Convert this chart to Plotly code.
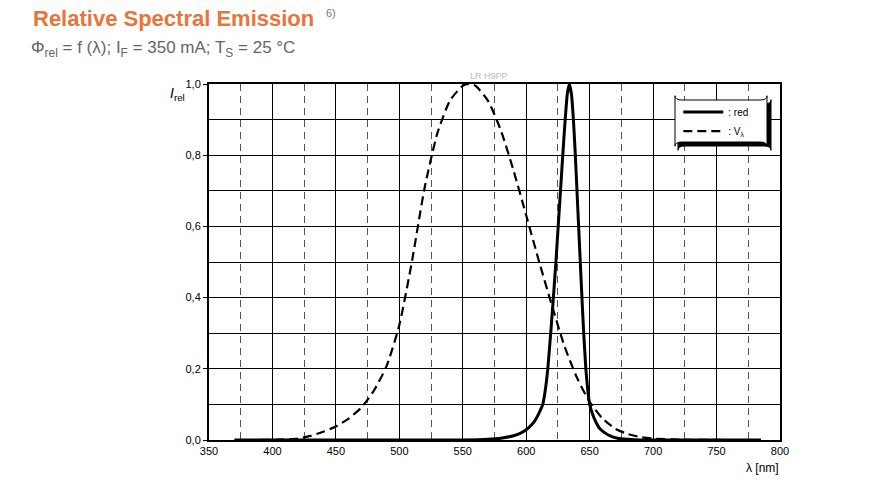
import plotly.graph_objects as go

# Data
red_wl = [370, 500, 550, 570, 580, 590, 596, 602, 606, 610, 613, 615, 617, 619.3, 621.4,
          623.4, 625.2, 627, 628.8, 630.7, 632.3, 634, 635.7, 637.2, 638.7, 640, 641.3,
          642.6, 643.9, 645.3, 647, 648.5, 650, 652.5, 655, 658, 662, 667, 672, 680, 690, 785]
red_val = [0, 0, 0, 0.002, 0.005, 0.012, 0.02, 0.035, 0.05, 0.075, 0.1, 0.14, 0.2, 0.3, 0.4,
           0.5, 0.6, 0.7, 0.8, 0.9, 0.97, 1.0, 0.97, 0.9, 0.8, 0.7, 0.6,
           0.5, 0.4, 0.3, 0.2, 0.14, 0.1, 0.07, 0.05, 0.032, 0.02, 0.01, 0.005, 0.002, 0, 0]

v_wl = [380, 400, 420, 430, 440, 450, 460, 470, 480, 490, 500, 510, 520, 530, 540, 550, 555,
        560, 570, 580, 590, 600, 610, 620, 630, 640, 650, 660, 670, 680, 690, 700, 720, 750, 780]
v_val = [0.00004, 0.0004, 0.004, 0.0116, 0.023, 0.038, 0.06, 0.091, 0.139, 0.208, 0.323, 0.503,
         0.71, 0.862, 0.954, 0.995, 1.0, 0.995, 0.952, 0.870, 0.757, 0.631, 0.503, 0.381, 0.265,
         0.175, 0.107, 0.061, 0.032, 0.017, 0.0082, 0.0041, 0.001, 0.00012, 0.00002]

x_ticks = [350, 400, 450, 500, 550, 600, 650, 700, 750, 800]
y_ticks = [0.0, 0.2, 0.4, 0.6, 0.8, 1.0]
y_ticklabels = ["0,0", "0,2", "0,4", "0,6", "0,8", "1,0"]

FONT = "Liberation Sans, Arial, sans-serif"

fig = go.Figure()
fig.add_trace(go.Scatter(x=red_wl, y=red_val, mode="lines", name=": red",
                         line=dict(color="black", width=3, shape="spline", smoothing=0.4)))
fig.add_trace(go.Scatter(x=v_wl, y=v_val, mode="lines", name=": V<sub>λ</sub>",
                         line=dict(color="black", width=2.2, dash="9px,5px", shape="spline", smoothing=0.6)))

fig.update_layout(
    width=879, height=491,
    margin=dict(l=209, r=99, t=84, b=51),
    paper_bgcolor="white", plot_bgcolor="white",
    font=dict(family=FONT, size=11, color="black"),
    showlegend=True,
    legend=dict(x=0.955, y=0.962, xanchor="right", yanchor="top",
                bgcolor="rgba(0,0,0,0)", borderwidth=0,
                font=dict(size=10), itemwidth=40, tracegroupgap=0),
    xaxis=dict(range=[350, 800], tickvals=x_ticks, ticks="", showline=True, linecolor="black",
               linewidth=2, mirror=True, showgrid=True, gridcolor="black", gridwidth=1,
               zeroline=False,
               minor=dict(dtick=25, tick0=375, showgrid=True, gridcolor="#555",
                          griddash="7px,5px", gridwidth=1, ticks="")),
    yaxis=dict(range=[0, 1.0], tickvals=y_ticks, ticktext=y_ticklabels, ticks="outside",
               ticklen=4, tickcolor="black", showline=True, linecolor="black", linewidth=2,
               mirror=True, showgrid=True, gridcolor="black", gridwidth=1, zeroline=False,
               minor=dict(dtick=0.1, tick0=0, showgrid=True, gridcolor="black", gridwidth=1,
                          ticks="")),
)

# legend box (rounded with shadow)
def rr(x0, y0, x1, y1, r):
    return (f"M {x0+r},{y0} L {x1-r},{y0} Q {x1},{y0} {x1},{y0+r} L {x1},{y1-r} "
            f"Q {x1},{y1} {x1-r},{y1} L {x0+r},{y1} Q {x0},{y1} {x0},{y1-r} "
            f"L {x0},{y0+r} Q {x0},{y0} {x0+r},{y0} Z")

def px(xp):
    return (xp - 209) / 571.0

def py(yp):
    return (440 - yp) / 356.0

fig.add_shape(type="path", xref="paper", yref="paper",
              path=rr(px(678), py(104), px(771), py(146), 0.012),
              fillcolor="black", line=dict(color="black", width=1), layer="above")
fig.add_shape(type="path", xref="paper", yref="paper",
              path=rr(px(675), py(100), px(767), py(142), 0.012),
              fillcolor="white", line=dict(color="black", width=1), layer="above")

# titles
fig.add_annotation(xref="paper", yref="paper", x=px(31), y=py(18), xanchor="left", yanchor="middle",
                   text="<b>Relative Spectral Emission</b>", showarrow=False,
                   font=dict(family=FONT, size=22, color="#E8743B"))
fig.add_annotation(xref="paper", yref="paper", x=px(324), y=py(13), xanchor="left", yanchor="middle",
                   text="6)", showarrow=False, font=dict(family=FONT, size=11, color="#777"))
fig.add_annotation(xref="paper", yref="paper", x=px(29), y=py(49), xanchor="left", yanchor="middle",
                   text="Φ<sub>rel</sub> = f (λ); I<sub>F</sub> = 350 mA; T<sub>S</sub> = 25 °C",
                   showarrow=False, font=dict(family=FONT, size=17, color="#666"))
fig.add_annotation(xref="paper", yref="paper", x=px(489), y=py(76), xanchor="center", yanchor="middle",
                   text="LR H9PP", showarrow=False, font=dict(family=FONT, size=9, color="#bbb"))
fig.add_annotation(xref="paper", yref="paper", x=px(168), y=py(94), xanchor="left", yanchor="middle",
                   text="<i>I</i><sub>rel</sub>", showarrow=False, font=dict(family=FONT, size=14, color="black"))
fig.add_annotation(xref="paper", yref="paper", x=px(781), y=py(468), xanchor="right", yanchor="middle",
                   text="λ [nm]", showarrow=False, font=dict(family=FONT, size=12, color="black"))

fig.write_html("out.html")
